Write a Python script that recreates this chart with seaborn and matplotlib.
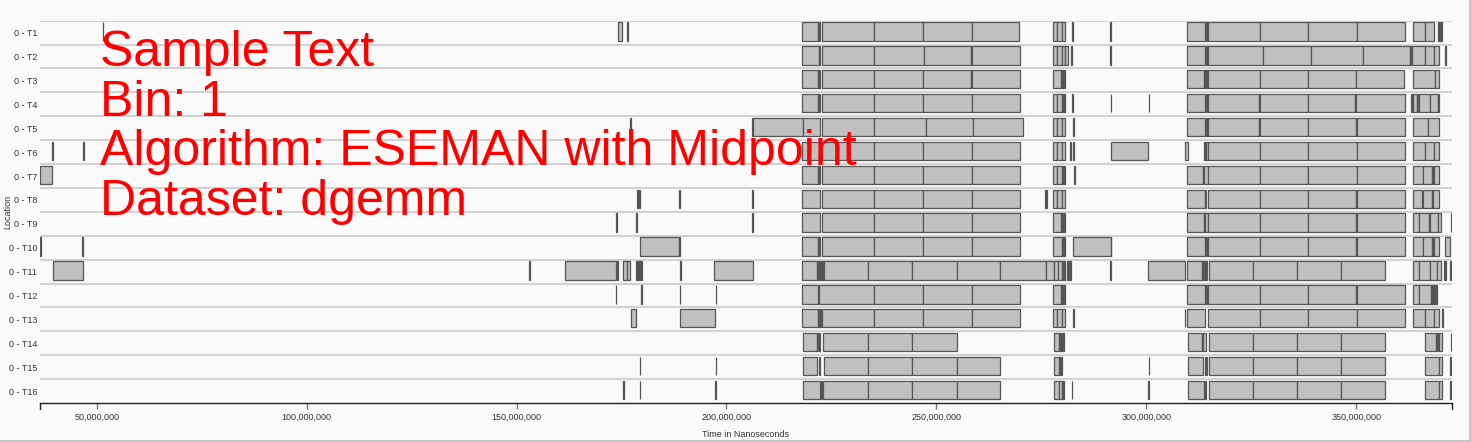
import pandas as pd
import seaborn as sns
import matplotlib.pyplot as plt
from matplotlib.lines import Line2D

# --- data: time spans per location, in millions of ns; each run lists breakpoints of adjacent segments ---
locations = [f"0 - T{i}" for i in range(1, 17)]

t1 = [[51.4, 51.6], [174.2, 175.2], [176.3, 176.5],
      [217.9, 221.7, 222.2], [222.7, 235.1, 246.7, 258.4, 269.7],
      [277.8, 278.8, 280.0, 280.7], [282.3, 282.5], [291.3, 291.5],
      [309.7, 314.0], [314.2, 314.8, 327.0, 338.6, 350.1, 361.7],
      [363.5, 366.3, 368.6], [369.4, 369.7, 370.0, 370.5]]
t2 = [[217.9, 222.0, 222.2], [222.7, 235.1, 247.1, 258.2, 258.4, 269.9],
      [277.8, 278.8, 280.0, 280.7, 281.4], [282.0, 282.4], [291.3, 291.5],
      [309.7, 314.0], [314.2, 314.8, 327.8, 339.2, 351.6, 362.9, 363.3, 366.3, 368.6, 369.8],
      [371.2, 371.4]]
t3 = [[217.9, 221.7], [221.9, 222.2], [222.7, 235.1, 246.8, 258.2, 258.4, 269.9],
      [277.8, 279.6, 279.9, 280.2, 280.5, 280.7],
      [309.7, 313.7, 314.0, 314.3, 314.8, 327.0, 338.6, 349.9, 361.4],
      [363.5, 368.7, 369.8]]
t4 = [[217.9, 221.7], [221.9, 222.2], [222.7, 235.1, 246.8, 258.4, 269.9],
      [277.8, 278.8, 279.8, 280.1, 280.7], [282.4, 282.6], [291.5, 291.7], [300.6, 300.7],
      [309.7, 314.0], [314.2, 314.8, 326.8, 327.0, 338.6, 349.7, 349.9, 361.7],
      [363.0, 363.3, 363.6, 364.5, 364.9, 367.5, 369.5, 369.8]]
t5 = [[177.1, 177.3], [206.1, 206.3, 218.2, 222.2], [222.7, 235.1, 247.5, 258.7, 270.6],
      [277.8, 278.8, 280.0, 280.7], [282.6, 282.7],
      [309.7, 314.0], [314.2, 314.8, 326.8, 327.0, 338.6, 349.9, 350.1, 361.7],
      [363.5, 367.0, 369.8]]
t6 = [[39.3, 39.7], [46.7, 47.0],
      [217.9, 222.2], [222.7, 235.1, 246.8, 258.4, 269.9],
      [277.8, 278.8, 280.0, 280.7], [281.9, 282.0], [282.6, 282.8], [291.6, 300.5],
      [309.2, 309.9], [313.8, 314.1, 314.8, 327.0, 338.6, 350.1, 361.7],
      [363.5, 366.3, 368.6, 369.8]]
t7 = [[36.5, 39.3],
      [217.9, 221.7], [221.9, 222.2], [222.7, 235.1, 246.8, 258.4, 269.9],
      [277.8, 278.8, 279.8, 280.1, 280.7], [282.8, 283.0],
      [309.7, 313.4, 313.7, 314.8, 327.0, 338.4, 338.6, 350.1, 361.7],
      [363.5, 365.9, 368.1, 368.4, 369.8]]
t8 = [[178.6, 178.9, 179.2, 179.4], [188.7, 188.9], [206.1, 206.3],
      [217.9, 222.2], [222.7, 235.1, 246.8, 258.4, 269.9],
      [275.9, 276.4], [277.8, 278.8, 280.0, 280.7],
      [309.7, 314.0, 314.3], [314.7, 327.0, 338.6, 350.0, 350.2, 361.7],
      [363.5, 365.6], [365.9, 368.0, 368.3, 369.8]]
t9 = [[173.8, 174.0], [178.5, 178.6], [206.1, 206.2],
      [217.9, 222.2], [222.7, 235.1, 246.8, 258.4, 269.9],
      [277.8, 279.6, 279.9, 280.2, 280.5, 280.7],
      [309.7, 313.7, 314.0, 314.8, 327.0, 338.6, 350.0, 350.2, 361.7],
      [363.5, 364.9, 367.4, 367.6, 369.4, 370.2], [372.5, 372.6]]
t10 = [[36.6, 36.7], [46.6, 46.7], [179.4, 188.7, 188.9],
       [217.9, 221.7], [221.9, 222.2], [222.7, 235.1, 246.8, 258.4, 269.9],
       [277.8, 280.0, 280.2, 280.7], [282.6, 291.5, 291.7],
       [309.7, 314.0], [314.2, 314.8, 327.0, 338.6, 350.0, 350.2, 361.7],
       [363.5, 365.9, 368.1, 368.4, 369.8], [371.2, 372.4]]
t11 = [[39.7, 46.7], [152.9, 153.1], [161.6, 173.6], [174.0, 174.2], [175.4, 176.3, 177.1],
       [178.5, 178.8, 179.1, 179.4, 179.8], [188.9, 189.1], [197.1, 206.2],
       [217.9, 221.6, 221.9, 222.2, 222.5, 222.8, 223.2, 233.8, 244.3, 254.8, 265.2,
        276.0, 278.0, 279.0, 279.8, 280.2, 280.7],
       [281.1, 281.4, 281.7, 282.1], [291.3, 291.5], [300.4, 309.3],
       [309.7, 313.2, 313.5, 313.8, 314.1, 314.4], [315.0, 325.4, 335.9, 346.4, 356.9],
       [363.5, 364.9, 367.5, 369.3, 370.1], [370.9, 371.3], [372.4, 372.5]]
t12 = [[173.6, 173.8], [179.7, 179.8], [188.9, 189.0], [197.4, 197.5],
       [217.9, 221.7], [222.1, 235.1, 246.8, 258.4, 269.9],
       [277.8, 279.6, 279.9, 280.2, 280.5, 280.7],
       [309.7, 314.0], [314.2, 314.8, 327.0, 338.6, 350.0, 350.2, 361.7],
       [363.5, 364.9, 367.8, 368.1, 368.4, 368.7, 369.3]]
t13 = [[177.3, 178.5], [188.9, 197.2],
       [217.9, 221.7, 222.0, 222.3, 222.7, 235.1, 246.8, 258.4, 269.9],
       [277.8, 278.8, 280.0, 280.7], [282.6, 282.7],
       [309.2, 309.3], [309.7, 314.0], [314.7, 327.0, 338.6, 350.1, 361.7],
       [363.5, 366.3, 368.6, 369.8], [370.4, 370.6]]
t14 = [[218.2, 221.6, 221.9, 222.2], [223.0, 233.8, 244.3, 254.8],
       [278.0, 279.2, 279.5, 279.8, 280.0, 280.5],
       [309.9, 313.2, 313.5, 314.2], [315.0, 325.4, 335.9, 346.4, 356.9],
       [366.3, 369.0, 369.3, 369.6, 370.5], [372.5, 372.6]]
t15 = [[179.3, 179.5], [197.4, 197.5],
       [218.2, 221.6], [222.1, 222.3], [223.2, 233.8, 244.3, 254.8, 265.2],
       [278.0, 279.2, 279.5, 280.0], [300.6, 300.7],
       [309.9, 313.4], [313.9, 314.4], [315.0, 325.4, 335.9, 346.4, 356.9],
       [366.3, 369.6, 370.5], [372.4, 372.6]]
t16 = [[175.4, 175.5], [179.3, 179.5], [197.3, 197.4],
       [218.2, 222.2], [222.6, 222.8], [223.0, 233.8, 244.3, 254.8, 265.2],
       [278.0, 279.2, 280.0, 280.5], [282.2, 282.4], [300.5, 300.6],
       [309.9, 313.8], [314.0, 314.2], [315.0, 325.4, 335.9, 346.4, 356.9],
       [366.3, 369.6, 370.5], [372.4, 372.5]]

runs = [t1, t2, t3, t4, t5, t6, t7, t8, t9, t10, t11, t12, t13, t14, t15, t16]
xticks = [50e6, 100e6, 150e6, 200e6, 250e6, 300e6, 350e6]
overlay = ["Sample Text", "Bin: 1", "Algorithm: ESEMAN with Midpoint", "Dataset: dgemm"]

# --- segments table ---
rows = []
for i, row in enumerate(runs):
    for run in row:
        for a, b in zip(run[:-1], run[1:]):
            rows.append({"loc": i, "start": a * 1e6, "end": b * 1e6})
df = pd.DataFrame(rows)
df["width"] = df["end"] - df["start"]

sns.set_theme(style="white")
plt.rcParams["font.family"] = ["Liberation Sans", "DejaVu Sans"]

W, H = 1471, 442
fig = plt.figure(figsize=(W / 100, H / 100), dpi=100, facecolor="#fafafa")
ax = fig.add_axes([40 / W, 39 / H, 1412 / W, 382.3 / H])
ax.set_facecolor("#fafafa")

for i in range(len(locations)):
    ax.axhline(i - 0.5, color="#d2d2d2", lw=1.5, zorder=0)

colors = ["#555555" if w < 0.7e6 else "#c0c0c0" for w in df["width"]]
ax.barh(df["loc"] - 0.048, df["width"], left=df["start"], height=0.77,
        color=colors, edgecolor="#555555", linewidth=0.9, zorder=2)

ax.set_xlim(36.5e6, 372.8e6)
ax.set_ylim(len(locations) - 0.5, -0.5)
ax.set_yticks(range(len(locations)))
ax.set_yticklabels(locations, fontsize=6.5, color="#333333")
ax.tick_params(axis="y", length=0, pad=2)
ax.set_xticks(xticks)
ax.set_xticklabels([f"{int(v):,}" for v in xticks], fontsize=6.5, color="#333333")
ax.tick_params(axis="x", length=4, width=1, color="#777777", pad=3, direction="out", bottom=True)
ax.set_xlabel("Time in Nanoseconds", fontsize=6.5, color="#333333", labelpad=6)
ax.set_ylabel("Location", fontsize=6.5, color="#333333")
ax.yaxis.set_label_coords(-28 / 1412, 0.5)

for s in ["top", "left", "right"]:
    ax.spines[s].set_visible(False)
ax.spines["bottom"].set_color("#222222")
ax.spines["bottom"].set_linewidth(1.0)
# outer ticks at the ends of the axis line
for xe in [0, 1]:
    ax.plot([xe, xe], [0, -0.016], transform=ax.transAxes, color="#222222",
            lw=1.0, clip_on=False)

# red overlay text
for k, line in enumerate(overlay):
    fig.text(100 / W, 1 - (66 + 49.7 * k) / H, line, color="#ff0000",
             fontsize=36, va="baseline", ha="left", zorder=5)

# frame lines at bottom and right edge
fig.add_artist(Line2D([0, 1], [0.6 / H, 0.6 / H], color="#bbbbbb", lw=1.2))
fig.add_artist(Line2D([1 - 1.2 / W, 1 - 1.2 / W], [0, 1], color="#bbbbbb", lw=1.2))

fig.savefig("out.png", dpi=100, facecolor=fig.get_facecolor())
